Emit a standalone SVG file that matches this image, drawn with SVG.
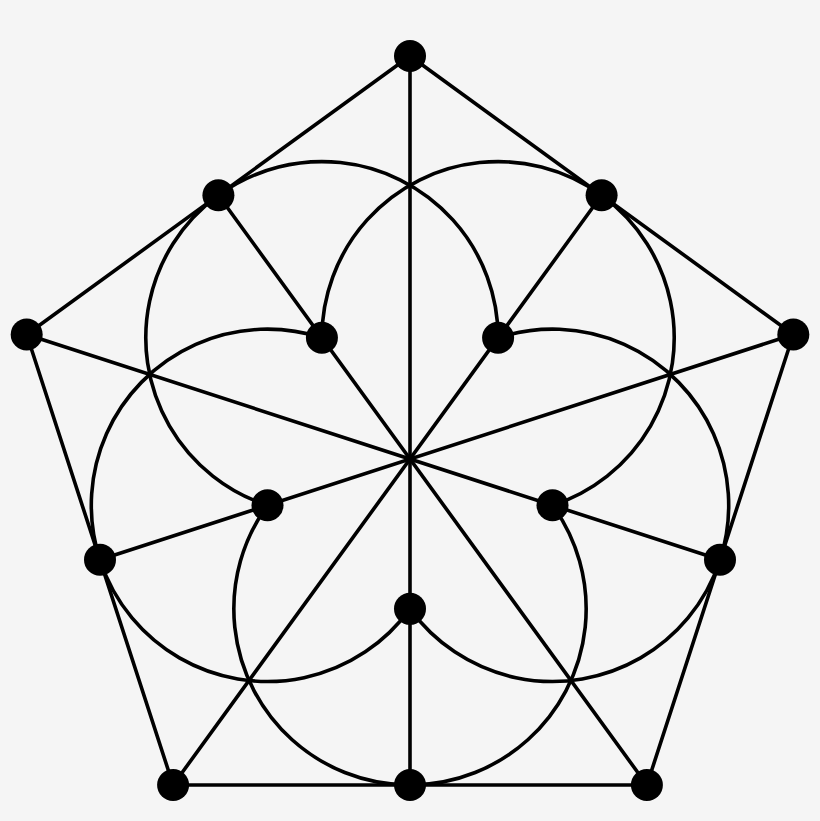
<svg xmlns="http://www.w3.org/2000/svg" width="820" height="821" viewBox="0 0 820 821">
<style>
.e{fill:none;stroke:#000;stroke-width:3.6;stroke-linecap:round;stroke-linejoin:round}
.n{fill:#000}
</style>
<rect width="820" height="821" fill="#f5f5f5"/>
<g id="connectors" class="e">
<polygon points="410,56 793.3,334.5 646.9,785 173.1,785 26.7,334.5"/>
<line x1="410" y1="56" x2="410" y2="785"/>
<line x1="793.3" y1="334.5" x2="100" y2="559.7"/>
<line x1="646.9" y1="785" x2="218.4" y2="195.3"/>
<line x1="173.1" y1="785" x2="601.6" y2="195.3"/>
<line x1="26.7" y1="334.5" x2="720" y2="559.7"/>
<path d="M498.1 337.8A176.16 176.16 0 1 0 267.5 505.3"/>
<path d="M552.5 505.3A176.16 176.16 0 1 0 321.9 337.8"/>
<path d="M410 608.85A176.16 176.16 0 1 0 498.1 337.8"/>
<path d="M267.5 505.3A176.16 176.16 0 1 0 552.5 505.3"/>
<path d="M321.9 337.8A176.16 176.16 0 1 0 410 608.85"/>
</g>
<g id="o0"><circle class="n" cx="410" cy="56" r="16"/></g>
<g id="o1"><circle class="n" cx="793.3" cy="334.5" r="16"/></g>
<g id="o2"><circle class="n" cx="646.9" cy="785" r="16"/></g>
<g id="o3"><circle class="n" cx="173.1" cy="785" r="16"/></g>
<g id="o4"><circle class="n" cx="26.7" cy="334.5" r="16"/></g>
<g id="m0"><circle class="n" cx="601.6" cy="195.3" r="16"/></g>
<g id="m1"><circle class="n" cx="720" cy="559.7" r="16"/></g>
<g id="m2"><circle class="n" cx="410" cy="785" r="16"/></g>
<g id="m3"><circle class="n" cx="100" cy="559.7" r="16"/></g>
<g id="m4"><circle class="n" cx="218.4" cy="195.3" r="16"/></g>
<g id="i0"><circle class="n" cx="498.1" cy="337.8" r="16"/></g>
<g id="i1"><circle class="n" cx="552.5" cy="505.3" r="16"/></g>
<g id="i2"><circle class="n" cx="410" cy="608.85" r="16"/></g>
<g id="i3"><circle class="n" cx="267.5" cy="505.3" r="16"/></g>
<g id="i4"><circle class="n" cx="321.9" cy="337.8" r="16"/></g>
</svg>
